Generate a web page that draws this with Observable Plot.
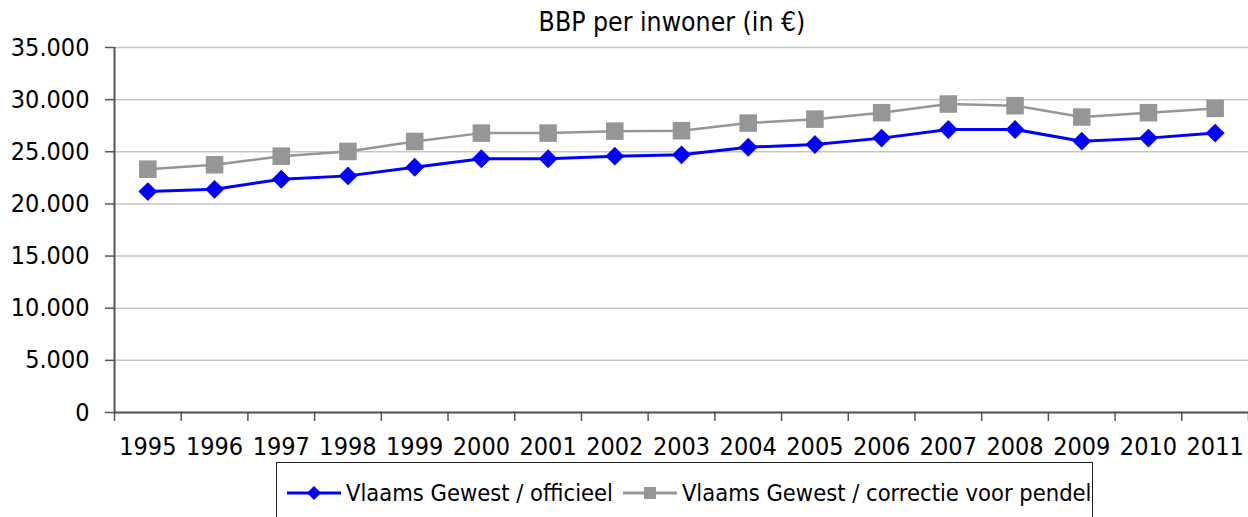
<!DOCTYPE html>
<html><head><meta charset="utf-8">
<script src="https://cdn.jsdelivr.net/npm/d3@7"></script>
<script src="https://cdn.jsdelivr.net/npm/@observablehq/plot@0.6"></script>
<style>
body{margin:0;background:#fff;font-family:"DejaVu Sans Condensed","DejaVu Sans",sans-serif;color:#000;}
#wrap{position:relative;width:1248px;height:517px;overflow:hidden;background:#fff;}
#title{position:absolute;left:96px;width:1152px;top:0;height:40px;line-height:44px;text-align:center;font-size:26.4px;}
#chart{position:absolute;left:0;top:40px;}
#legend{position:absolute;left:276px;top:462px;width:817px;height:80px;box-sizing:border-box;border:1.5px solid #222;display:flex;align-items:flex-start;padding-top:16px;padding-left:10px;font-size:23.5px;white-space:nowrap;}
.item{display:flex;align-items:center;height:28px;}
.item svg{margin-right:5px;}
.gap{width:10px;}
</style></head><body>
<div id="wrap">
<div id="title">BBP per inwoner (in €)</div>
<div id="chart"></div>
<div id="legend"></div>
</div>
<script>
const years = [1995,1996,1997,1998,1999,2000,2001,2002,2003,2004,2005,2006,2007,2008,2009,2010,2011];
const officieel = [21180,21400,22370,22690,23520,24330,24330,24580,24710,25440,25700,26310,27140,27140,26020,26310,26790];
const pendel = [23330,23750,24580,25030,25990,26790,26790,26980,27020,27750,28130,28750,29580,29420,28330,28750,29160];
const seriesNames = ["Vlaams Gewest / officieel","Vlaams Gewest / correctie voor pendel"];
const seriesColors = ["#0000ff","#969696"];
const yTicks = [0,5000,10000,15000,20000,25000,30000,35000];

const rowsOff = years.map((yr,i)=>({year:yr,value:officieel[i],series:seriesNames[0]}));
const rowsPen = years.map((yr,i)=>({year:yr,value:pendel[i],series:seriesNames[1]}));
const nl = d3.formatLocale({decimal:",",thousands:".",grouping:[3],currency:["€",""]});
const fmt = nl.format(",d");
const bounds = years.map(y=>y-0.5).concat([years[years.length-1]+0.5]);

const chart = Plot.plot({
  width:1248, height:422, marginTop:7, marginBottom:50, marginLeft:114, marginRight:0,
  style:{fontFamily:'"DejaVu Sans Condensed","DejaVu Sans",sans-serif', fontSize:"25px", color:"#000", background:"#fff", overflow:"visible"},
  x:{type:"linear", domain:[bounds[0], bounds[bounds.length-1]], axis:null},
  y:{domain:[0,35000], axis:null},
  marks:[
    Plot.gridY(yTicks,{stroke:"#c6c6c6",strokeOpacity:1,strokeWidth:1.5}),
    Plot.axisY(yTicks,{tickSize:9,tickPadding:16,tickFormat:fmt,stroke:"#555",fill:"#000",strokeWidth:1.5,label:null}),
    Plot.axisX(bounds,{tickSize:9,tickFormat:()=>"",stroke:"#555",strokeWidth:1.5,label:null}),
    Plot.axisX(years,{tickSize:0,tickPadding:25,tickFormat:d=>String(d),fill:"#000",label:null}),
    Plot.ruleX([bounds[0]],{stroke:"#555",strokeWidth:2}),
    Plot.ruleY([0],{stroke:"#555",strokeWidth:2}),
    Plot.line(rowsPen,{x:"year",y:"value",stroke:seriesColors[1],strokeWidth:2.5}),
    Plot.dot(rowsPen,{x:"year",y:"value",symbol:"square",r:9.9,fill:seriesColors[1],stroke:"none"}),
    Plot.line(rowsOff,{x:"year",y:"value",stroke:seriesColors[0],strokeWidth:3}),
    Plot.dot(rowsOff,{x:"year",y:"value",symbol:"diamond2",r:8.5,fill:seriesColors[0],stroke:"none"})
  ]
});
document.getElementById("chart").appendChild(chart);

const legend = document.getElementById("legend");
const symbols = ["diamond","square"];
seriesNames.forEach((name,i)=>{
  if(i>0){const g=document.createElement("div");g.className="gap";legend.appendChild(g);}
  const it=document.createElement("div");it.className="item";
  const sym = symbols[i]==="diamond"
    ? `<path d="M27,3 L34,10 L27,17 L20,10 Z" fill="${seriesColors[i]}"/>`
    : `<rect x="21" y="4" width="12" height="12" fill="${seriesColors[i]}"/>`;
  it.innerHTML=`<svg width="54" height="20"><line x1="0" y1="10" x2="54" y2="10" stroke="${seriesColors[i]}" stroke-width="3"/>${sym}</svg><span>${name}</span>`;
  legend.appendChild(it);
});
</script>
</body></html>
